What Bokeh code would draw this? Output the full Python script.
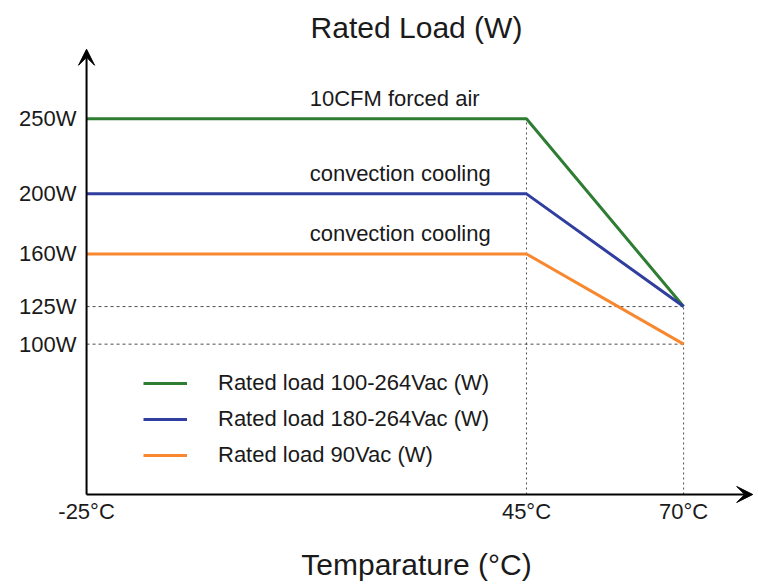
from bokeh.plotting import figure
from bokeh.models import Range1d, FixedTicker, Arrow, VeeHead, Legend, LegendItem
from bokeh.core.properties import value
from bokeh.embed import file_html
from bokeh.resources import INLINE

temps = [-25, 45, 70]
load_100_264 = [250, 250, 125]
load_180_264 = [200, 200, 125]
load_90 = [160, 160, 100]
series_names = ["Rated load 100-264Vac (W)", "Rated load 180-264Vac (W)", "Rated load 90Vac (W)"]
series_notes = ["10CFM forced air", "convection cooling", "convection cooling"]
x_ticks = [-25, 45, 70]
x_tick_labels = ["-25°C", "45°C", "70°C"]
y_ticks = [100, 125, 160, 200, 250]
y_tick_labels = ["100W", "125W", "160W", "200W", "250W"]

FONT = "Liberation Sans"
TXT = "#1a1a1a"
colors = ["#2e7d32", "#303f9f", "#f7882f"]
X_START, X_END = -26.6, 81.6
Y_START, Y_END = -6.67, 296.7

p = figure(width=756, height=583, output_backend="svg", toolbar_location=None,
           x_range=Range1d(X_START, X_END), y_range=Range1d(Y_START, Y_END),
           min_border_left=76, min_border_right=0, min_border_top=48, min_border_bottom=40)
p.title.text = "Rated Load (W)"
p.title.align = "center"
p.title.offset = 5
p.title.text_font = FONT
p.title.text_font_size = "30px"
p.title.text_font_style = "normal"
p.title.text_color = TXT
p.grid.visible = False
p.outline_line_color = None
p.background_fill_color = "white"

p.xaxis.ticker = FixedTicker(ticks=x_ticks)
p.xaxis.major_label_overrides = dict(zip(x_ticks, x_tick_labels))
p.yaxis.ticker = FixedTicker(ticks=y_ticks)
p.yaxis.major_label_overrides = dict(zip(y_ticks, y_tick_labels))
for ax in (p.xaxis, p.yaxis):
    ax.axis_line_color = None
    ax.major_tick_line_color = None
    ax.minor_tick_line_color = None
    ax.major_tick_out = 0
    ax.major_tick_in = 0
    ax.major_label_text_font = FONT
    ax.major_label_text_font_size = "22px"
    ax.major_label_text_color = TXT
p.yaxis.major_label_standoff = 0
p.xaxis.major_label_standoff = -6
p.xaxis.axis_label = "Temparature (°C)"
p.xaxis.axis_label_text_font = FONT
p.xaxis.axis_label_text_font_size = "30px"
p.xaxis.axis_label_text_font_style = "normal"
p.xaxis.axis_label_text_color = TXT
p.xaxis.axis_label_standoff = 21

# reference guide lines
dash_col = "#4d4d4d"
p.line([temps[0], temps[2]], [load_100_264[2]] * 2, line_color=dash_col, line_dash="3 3", line_width=1)
p.line([temps[0], temps[2]], [load_90[2]] * 2, line_color=dash_col, line_dash="3 3", line_width=1)
p.line([temps[1], temps[1]], [0, load_100_264[1]], line_color=dash_col, line_dash="2 3", line_width=1)
p.line([temps[2], temps[2]], [0, load_100_264[2]], line_color=dash_col, line_dash="2 3", line_width=1)

items = []
for vals, col, name, note in zip([load_100_264, load_180_264, load_90], colors, series_names, series_notes):
    r = p.line(temps, vals, line_color=col, line_width=3)
    items.append(LegendItem(label=name, renderers=[r]))
    p.text(x=[10.5], y=[vals[0]], text=[note], text_align="left", text_baseline="middle",
           y_offset=-20, text_font=value(FONT), text_font_size="22px", text_color=TXT)

# axes arrows
p.add_layout(Arrow(end=VeeHead(size=16, fill_color="black", line_color="black", line_width=1),
                   x_start=-25, y_start=0, x_end=-25, y_end=Y_END - 0.5, line_width=2, line_color="black"))
p.add_layout(Arrow(end=VeeHead(size=16, fill_color="black", line_color="black", line_width=1),
                   x_start=-25, y_start=0, x_end=X_END - 0.6, y_end=0, line_width=2, line_color="black"))

legend = Legend(items=items, location=(67, 36), padding=0, margin=0, spacing=10,
                glyph_width=44, glyph_height=24, label_height=24, label_standoff=31,
                label_text_font=FONT, label_text_font_size="22px", label_text_color=TXT,
                border_line_color=None, background_fill_alpha=0)
p.add_layout(legend, "center")

open("out.html", "w").write(file_html(p, INLINE))
